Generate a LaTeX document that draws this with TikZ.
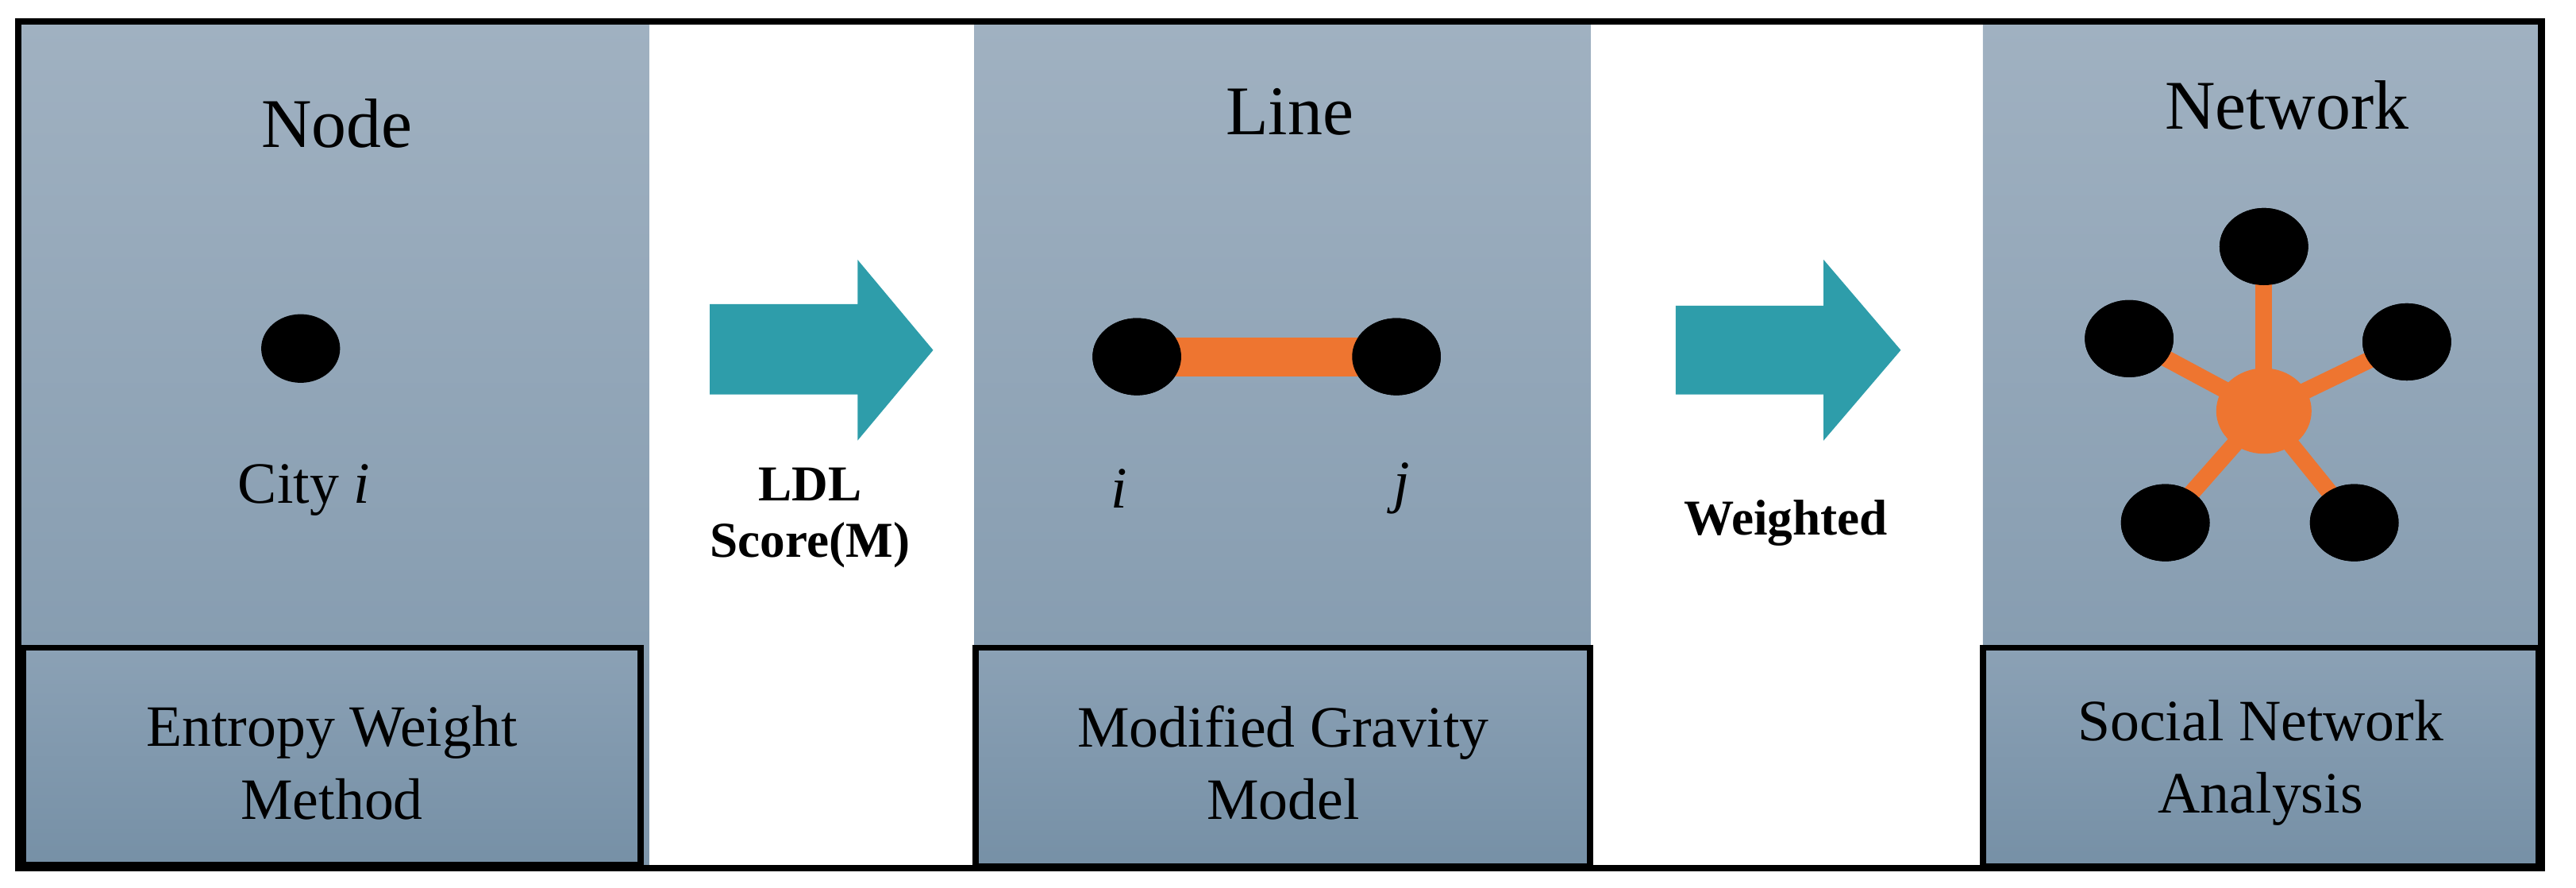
\documentclass[tikz,border=0pt]{standalone}
\usepackage{fontspec}
\setmainfont{Liberation Serif}
\usetikzlibrary{shapes.geometric}
\definecolor{ptop}{HTML}{A0B1C1}
\definecolor{pbot}{HTML}{7E96AB}
\definecolor{btop}{HTML}{8BA1B5}
\definecolor{bbot}{HTML}{7690A6}
\definecolor{teal}{HTML}{2E9DAA}
\definecolor{org}{HTML}{EE7530}
\begin{document}
\begin{tikzpicture}[x=0.0207cm,y=-0.0207cm,
 panel/.style={top color=ptop,bottom color=pbot,draw=none},
 box/.style={top color=btop,bottom color=bbot,draw=black,line width=2.2pt},
 dot/.style={ellipse,fill=black,inner sep=0pt,minimum width=#1*0.0414cm,minimum height=#1*0.036cm},
 dot/.default=27,
 title/.style={font=\fontsize{25}{30}\selectfont},
 lbl/.style={font=\fontsize{21}{26}\selectfont,align=center},
 bl/.style={font=\fontsize{18}{22}\selectfont\bfseries,align=center},
 bigarrow/.style={fill=teal,draw=none},
 bar/.style={org,line width=#1}]
\useasboundingbox (0,0) rectangle (1568,540);
% panels
\shade[panel] (12,14) rectangle (395,527);
\shade[panel] (593,14) rectangle (968,527);
\shade[panel] (1207,14) rectangle (1545,527);
\draw[line width=2.4pt] (11,13) rectangle (1547,528);
\shade[box] (14,394) rectangle (390,526);
\shade[box] (594,394) rectangle (968,527);
\shade[box] (1207,394) rectangle (1545,527);
% titles
\node[title] (t1) at (205,75) {Node};
\node[title] (t2) at (785,68) {Line};
\node[title] (t3) at (1392,64) {Network};
% panel 1
\node[dot=24] (c) at (183,212) {};
\node[lbl] (ci) at (185,298) {City \textit{i}};
% arrows
\fill[bigarrow] (432,185) -- (522,185) -- (522,158) -- (568,213) -- (522,268) -- (522,240) -- (432,240) -- cycle;
\fill[bigarrow] (1020,186) -- (1110,186) -- (1110,158) -- (1157,213) -- (1110,268) -- (1110,240) -- (1020,240) -- cycle;
\node[bl] (ldl) at (493,315) {LDL\\[-2pt]Score(M)};
\node[bl] (w) at (1087,318) {Weighted};
% panel 2
\node[dot] (a) at (692,217) {};
\node[dot] (b) at (850,217) {};
\draw[bar=14pt] (a.center) -- (b.center);
\node[dot] at (692,217) {};
\node[dot] at (850,217) {};
\node[lbl] (li) at (681,297) {\textit{i}};
\node[lbl] (lj) at (853,297) {\textit{j}};
% panel 3
\coordinate (hub) at (1378,250);
\node[dot] (n1) at (1378,150) {};
\node[dot] (n2) at (1296,206) {};
\node[dot] (n3) at (1465,208) {};
\node[dot] (n4) at (1318,318) {};
\node[dot] (n5) at (1433,318) {};
\foreach \n in {n1,n2,n3,n4,n5} \draw[bar=6pt] (hub) -- (\n.center);
\fill[org] (hub) ellipse (29 and 26);
\foreach \p in {(1378,150),(1296,206),(1465,208),(1318,318),(1433,318)} \node[dot] at \p {};
% bottom labels
\node[lbl] (m1) at (202,464) {Entropy Weight\\Method};
\node[lbl] (m2) at (781,464) {Modified Gravity\\Model};
\node[lbl] (m3) at (1376,464) {Social Network\\Analysis};
\end{tikzpicture}
\end{document}
